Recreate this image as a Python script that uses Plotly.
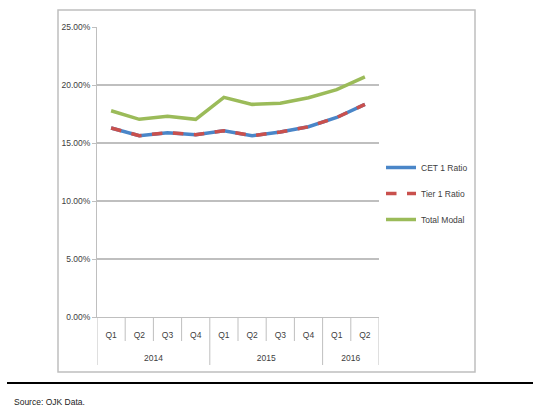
import plotly.graph_objects as go

years = ["2014", "2015", "2016"]
year_sizes = [4, 4, 2]
quarters = ["Q1", "Q2", "Q3", "Q4", "Q1", "Q2", "Q3", "Q4", "Q1", "Q2"]
cet1 = [16.29, 15.63, 15.89, 15.72, 16.06, 15.63, 15.95, 16.40, 17.20, 18.33]
tier1 = [16.29, 15.63, 15.89, 15.72, 16.06, 15.63, 15.95, 16.40, 17.20, 18.33]
total_modal = [17.78, 17.04, 17.30, 17.04, 18.94, 18.33, 18.42, 18.90, 19.60, 20.70]
y_ticks = [0, 5, 10, 15, 20, 25]

FONT = "Liberation Sans Narrow, Liberation Sans, Arial, sans-serif"
FS = 8.5
GRAY = "#BFBFBF"
TXT = "#404040"

idx = list(range(len(quarters)))

fig = go.Figure()
fig.add_trace(go.Scatter(x=idx, y=cet1, mode="lines", name="CET 1 Ratio",
                         line=dict(color="#4A86C8", width=3.5), legendgroup="a"))
fig.add_trace(go.Scatter(x=idx, y=tier1, mode="lines", name="Tier 1 Ratio", xaxis="x2",
                         line=dict(color="#C9504D", width=3.5, dash="dash"), legendgroup="b"))
fig.add_trace(go.Scatter(x=idx, y=total_modal, mode="lines", name="Total Modal",
                         line=dict(color="#9BBB59", width=3.5), legendgroup="c"))

W, H = 533, 409
L, R, T = 97, 379, 27
AX_Y = 317          # pixel row of the x axis line (0%)
BOT = 365           # bottom of the plotting region (end of year dividers)
ph = BOT - T
pw = R - L

def px(x):
    return (x - L) / pw

def py(y):
    return (BOT - y) / ph

# year group centres and boundaries (category index space)
starts = [sum(year_sizes[:i]) for i in range(len(year_sizes))]
year_centers = [s + (n - 1) / 2 for s, n in zip(starts, year_sizes)]
year_bounds = [s - 0.5 for s in starts] + [len(quarters) - 0.5]
inner_bounds = [i + 0.5 for i in range(len(quarters) - 1) if (i + 0.5) not in year_bounds]
xr = [-0.5, len(quarters) - 0.5]

fig.update_layout(
    width=W, height=H,
    margin=dict(l=L, r=W - R, t=T, b=H - BOT, pad=0),
    paper_bgcolor="white", plot_bgcolor="white",
    font=dict(family=FONT, size=FS, color=TXT),
    showlegend=True,
    legend=dict(x=px(381), y=py(153), xanchor="left", yanchor="top",
                font=dict(size=FS, color=TXT), tracegroupgap=7,
                bgcolor="rgba(0,0,0,0)", itemwidth=30),
    xaxis=dict(range=xr, tickvals=idx, ticktext=quarters,
               showgrid=False, showline=True, linecolor=GRAY, linewidth=1,
               ticks="", zeroline=False, anchor="y", ticklabelstandoff=10,
               tickfont=dict(size=FS, color=TXT)),
    xaxis2=dict(range=xr, tickvals=year_centers, ticktext=years,
                overlaying="x", anchor="free", position=py(351), side="bottom",
                showgrid=False, showline=False, ticks="", zeroline=False,
                tickfont=dict(size=FS, color=TXT)),
    yaxis=dict(domain=[py(AX_Y), 1], range=[0, 25], tickvals=y_ticks,
               ticktext=[f"{v:.2f}%" for v in y_ticks], showgrid=True,
               gridcolor=GRAY, gridwidth=1.5, showline=True, linecolor=GRAY,
               linewidth=1, ticks="outside", ticklen=4, tickcolor=GRAY,
               zeroline=False, tickfont=dict(size=FS, color=TXT)),
)

# separators under the category axis
for b in inner_bounds:
    fig.add_shape(type="line", xref="x", yref="paper", x0=b, x1=b,
                  y0=py(AX_Y), y1=py(AX_Y + 24), line=dict(color=GRAY, width=1))
for b in year_bounds:
    fig.add_shape(type="line", xref="x", yref="paper", x0=b, x1=b,
                  y0=py(AX_Y), y1=py(BOT), line=dict(color=GRAY, width=1))

# outer chart border
fig.add_shape(type="rect", xref="paper", yref="paper",
              x0=px(58), x1=px(475), y0=py(372), y1=py(10),
              line=dict(color=GRAY, width=1.5), layer="below")
# source separator line
fig.add_shape(type="line", xref="paper", yref="paper",
              x0=px(7), x1=px(533), y0=py(383), y1=py(383),
              line=dict(color="black", width=2))
fig.add_annotation(text="Source: OJK Data.", xref="paper", yref="paper",
                   x=px(12), y=py(402), xanchor="left", yanchor="middle",
                   showarrow=False, font=dict(family=FONT, size=FS, color="#222222"))

fig.write_html("out.html", config={"displayModeBar": False},
               post_script="document.body.style.margin='0';")
